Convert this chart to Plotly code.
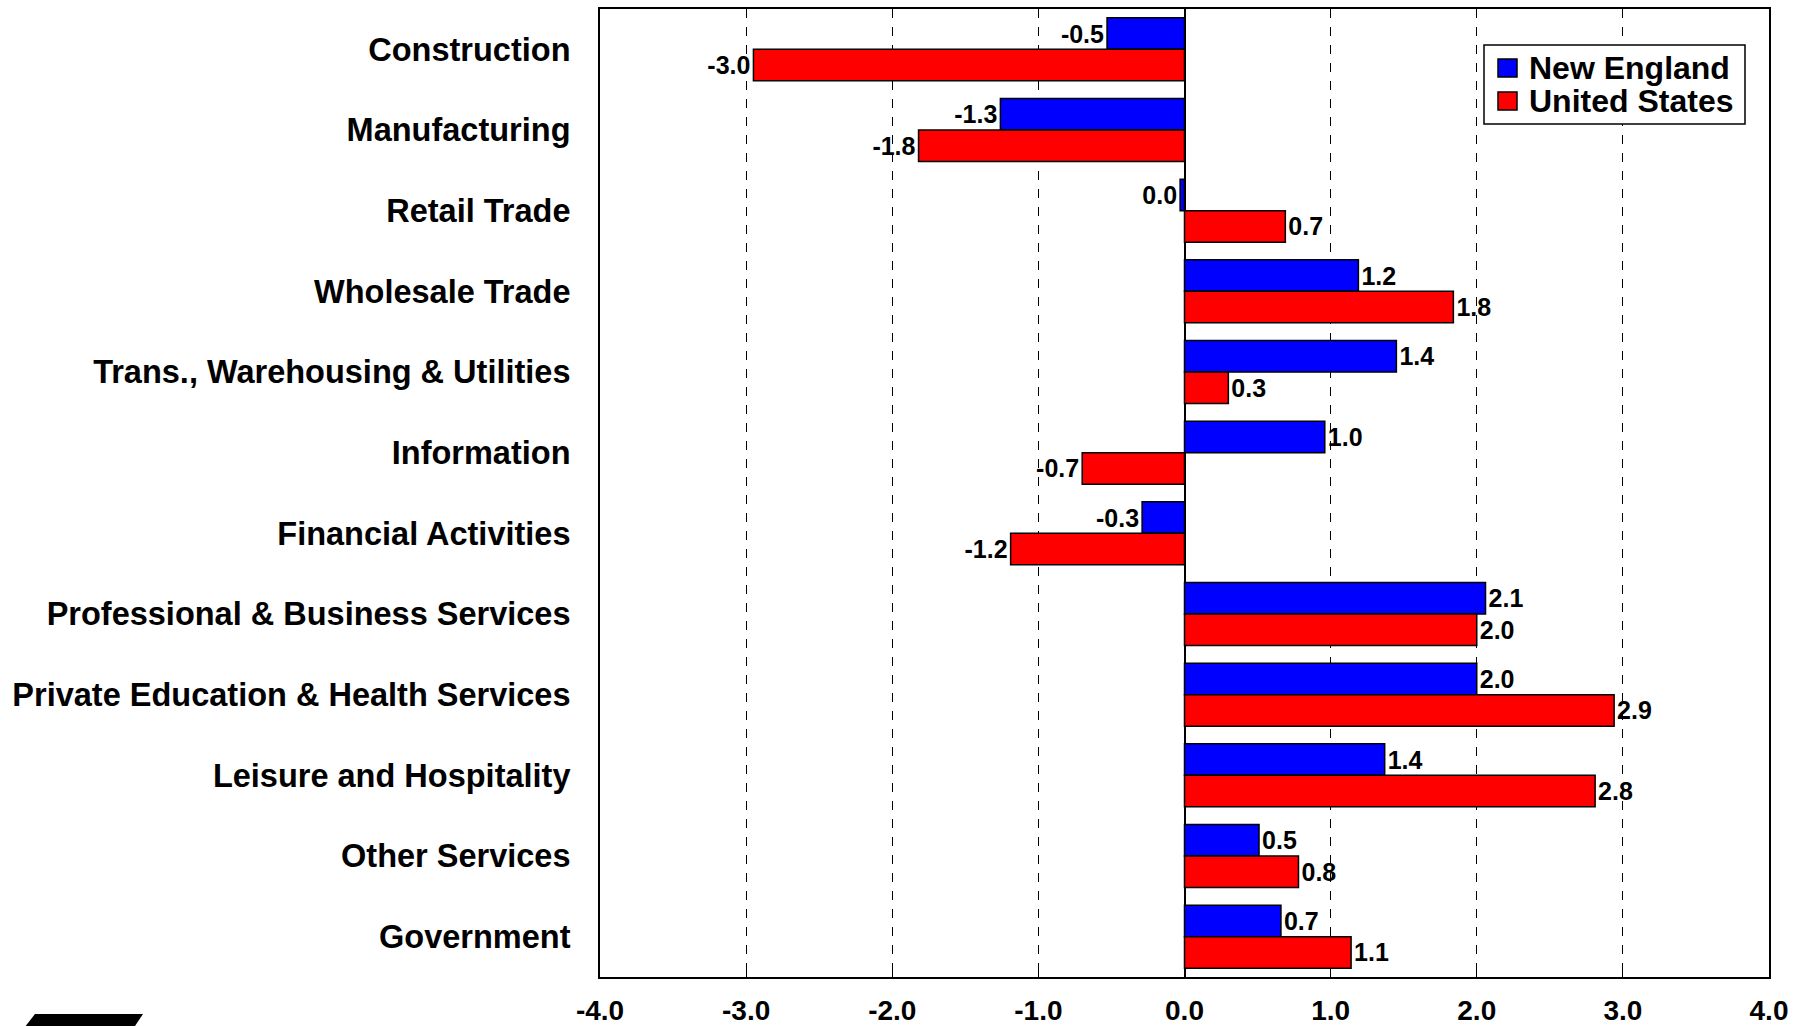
import plotly.graph_objects as go

categories = [
    "Construction", "Manufacturing", "Retail Trade", "Wholesale Trade",
    "Trans., Warehousing & Utilities", "Information", "Financial Activities",
    "Professional & Business Services", "Private Education & Health Services",
    "Leisure and Hospitality", "Other Services", "Government",
]
new_england = [-0.53, -1.26, -0.03, 1.19, 1.45, 0.96, -0.29, 2.06, 2.00, 1.37, 0.51, 0.66]
united_states = [-2.95, -1.82, 0.69, 1.84, 0.30, -0.70, -1.19, 2.00, 2.94, 2.81, 0.78, 1.14]
series_names = ["New England", "United States"]
series_colors = ["#0000ff", "#ff0000"]
x_ticks = [-4, -3, -2, -1, 0, 1, 2, 3, 4]
x_tick_labels = ["-4.0", "-3.0", "-2.0", "-1.0", "0.0", "1.0", "2.0", "3.0", "4.0"]


def fmt(v):
    s = f"{v:.1f}"
    return "0.0" if s == "-0.0" else s


W, H = 1800, 1026
ML, MR, MT, MB = 600, 31, 9, 49
PW = W - ML - MR
PH = H - MT - MB

FONT = "Liberation Sans, Arial, sans-serif"
label_font = dict(family=FONT, size=25, color="black", weight="bold")

fig = go.Figure()
for name, color, vals in zip(series_names, series_colors, [new_england, united_states]):
    fig.add_trace(go.Bar(
        y=categories, x=vals, orientation="h", name=name,
        marker=dict(color=color, line=dict(color="black", width=1.5)),
        text=[fmt(v) for v in vals], textposition="outside",
        textfont=label_font, constraintext="none", cliponaxis=False,
        showlegend=False, hoverinfo="skip",
    ))


def px_to_paper_x(px):
    return (px - ML) / PW


def px_to_paper_y(py):
    return 1 - (py - MT) / PH


shapes = []
annotations = []

# legend box (drawn by hand to match the compact original)
shapes.append(dict(type="rect", xref="paper", yref="paper",
                   x0=px_to_paper_x(1484), x1=px_to_paper_x(1745),
                   y0=px_to_paper_y(124), y1=px_to_paper_y(45),
                   fillcolor="white", line=dict(color="black", width=1.5), layer="above"))
for i, (name, color) in enumerate(zip(series_names, series_colors)):
    yc = 68 + i * 33
    shapes.append(dict(type="rect", xref="paper", yref="paper",
                       x0=px_to_paper_x(1498), x1=px_to_paper_x(1517),
                       y0=px_to_paper_y(yc + 9), y1=px_to_paper_y(yc - 9),
                       fillcolor=color, line=dict(color="black", width=1.5), layer="above"))
    annotations.append(dict(xref="paper", yref="paper", x=px_to_paper_x(1527), y=px_to_paper_y(yc),
                            xanchor="left", yanchor="middle", showarrow=False, text=name,
                            font=dict(family=FONT, size=32, color="black", weight="bold")))

# partial logo at bottom-left (cut by the page edge)
logo_pts = [(35, 1014), (143, 1014), (131, 1032), (21, 1032)]
path = "M " + " L ".join(f"{px_to_paper_x(x):.5f},{px_to_paper_y(y):.5f}" for x, y in logo_pts) + " Z"
shapes.append(dict(type="path", xref="paper", yref="paper", path=path,
                   fillcolor="black", line=dict(width=0), layer="above"))

fig.update_layout(
    width=W, height=H,
    margin=dict(l=ML, r=MR, t=MT, b=MB, pad=0, autoexpand=False),
    paper_bgcolor="white", plot_bgcolor="white",
    barmode="group", bargap=0.22, bargroupgap=0,
    font=dict(family=FONT, size=32, color="black", weight="bold"),
    showlegend=False,
    xaxis=dict(
        range=[-4, 4], tickvals=x_ticks, ticktext=x_tick_labels, automargin=False,
        showgrid=True, gridcolor="black", griddash="dash", gridwidth=1,
        zeroline=True, zerolinecolor="black", zerolinewidth=2,
        showline=True, linecolor="black", linewidth=2, mirror=True,
        ticks="inside", ticklen=5, tickcolor="black",
        tickfont=dict(family="Liberation Sans Narrow, Liberation Sans, Arial, sans-serif", size=28, color="black", weight="bold"),
        ticklabelstandoff=7,
    ),
    yaxis=dict(
        autorange="reversed", showgrid=False, automargin=False,
        showline=True, linecolor="black", linewidth=2, mirror=True,
        ticks="", ticklabelstandoff=21,
        tickfont=dict(family=FONT, size=32.5, color="black", weight="bold"),
    ),
    shapes=shapes,
    annotations=annotations,
)

fig.write_html("out.html", config={"displayModeBar": False},
               post_script="document.body.style.margin='0px';")
